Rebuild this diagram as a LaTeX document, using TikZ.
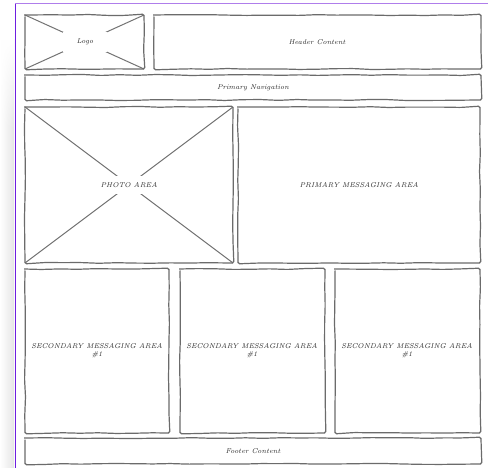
\documentclass[tikz,border=0pt]{standalone}
\usetikzlibrary{decorations.pathmorphing,fadings}
\definecolor{frameleft}{RGB}{110,30,225}
\definecolor{frametop}{RGB}{175,125,235}
\begin{document}
\begin{tikzpicture}[x=1pt,y=-1pt,
  sketch/.style={draw=black!58,line width=1.2pt,rounded corners=1.5pt,
    decorate,decoration={random steps,segment length=18pt,amplitude=0.5pt}},
  lab/.style={text=black!85,font=\fontsize{7}{8}\selectfont\itshape,align=center},
  mask/.style={fill=white,inner xsep=5pt,inner ysep=4pt},
  xline/.style={draw=black!55,line width=1pt}]
\useasboundingbox (0,0) rectangle (488,468);
\fill[white] (0,0) rectangle (488,468);
% left shadow strip
\shade[left color=white,right color=black!10] (0,40) rectangle (14,468);
\fill[white,path fading=south] (0,40) rectangle (14,130);
\fill[white] (0,0) rectangle (14,40);
% frame lines
\draw[draw=frameleft,line width=1pt] (15,468) -- (15,3.5);
\draw[draw=frametop,line width=1pt] (15,3.5) -- (488,3.5);
% box corner coordinates
\coordinate (logoA) at (25,15);   \coordinate (logoB) at (144,69);
\coordinate (headA) at (154,15);  \coordinate (headB) at (481,69);
\coordinate (navA) at (25,75);    \coordinate (navB) at (481,100);
\coordinate (photoA) at (25,107); \coordinate (photoB) at (233,263);
\coordinate (primA) at (238,107); \coordinate (primB) at (480,263);
\coordinate (secAA) at (25,269);  \coordinate (secAB) at (169,433);
\coordinate (secBA) at (180,269); \coordinate (secBB) at (325,433);
\coordinate (secCA) at (335,269); \coordinate (secCB) at (480,433);
\coordinate (footA) at (25,438);  \coordinate (footB) at (481,464);
% X lines
\draw[xline] (logoA) -- (logoB);
\draw[xline] (logoA |- logoB) -- (logoB |- logoA);
\draw[xline] (photoA) -- (photoB);
\draw[xline] (photoA |- photoB) -- (photoB |- photoA);
% boxes
\foreach \p in {logo,head,nav,photo,prim,secA,secB,secC,foot}{
  \draw[sketch] (\p A) rectangle (\p B);
}
% labels
\node[lab,mask,inner xsep=14pt,inner ysep=7pt] (logo) at (85,42) {Logo};
\node[lab] (head) at (317,42) {Header Content};
\node[lab] (nav) at (253,88) {Primary Navigation};
\node[lab,mask,inner xsep=8pt,inner ysep=6pt] (photo) at (129,185) {PHOTO AREA};
\node[lab] (prim) at (359,185) {PRIMARY MESSAGING AREA};
\node[lab] (secA) at (97,351) {SECONDARY MESSAGING AREA\\\#1};
\node[lab] (secB) at (252,351) {SECONDARY MESSAGING AREA\\\#1};
\node[lab] (secC) at (407,351) {SECONDARY MESSAGING AREA\\\#1};
\node[lab] (foot) at (253,451) {Footer Content};
\end{tikzpicture}
\end{document}
